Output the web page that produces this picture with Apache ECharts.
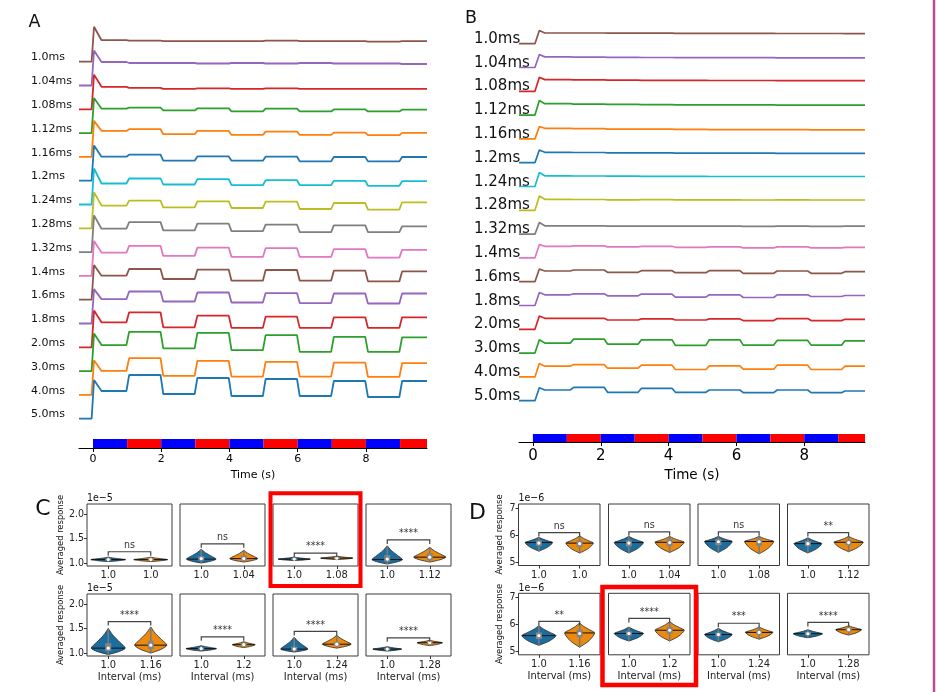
<!DOCTYPE html>
<html><head><meta charset="utf-8">
<script src="https://cdn.jsdelivr.net/npm/echarts@6/dist/echarts.min.js"></script>
<style>html,body{margin:0;padding:0;background:#fff}#c{width:936px;height:692px}</style>
</head><body><div id="c"></div>
<script>
// ---------------- DATA ----------------
// trace labels, top to bottom
const traceLabels = ['1.0ms','1.04ms','1.08ms','1.12ms','1.16ms','1.2ms','1.24ms','1.28ms','1.32ms','1.4ms','1.6ms','1.8ms','2.0ms','3.0ms','4.0ms','5.0ms'];
const timeTicks = [0, 2, 4, 6, 8];
// stimulus: 1-s blocks, 0 = blue, 1 = red
const stimEdges = [0, 1, 2, 3, 4, 5, 6, 7, 8, 9, 9.79];
const stimPhase = [0, 1, 0, 1, 0, 1, 0, 1, 0, 1];

// Panel A: onset peak and level in each 1-s block (a.u. above the trace baseline), top to bottom
const aPeak = [35, 35, 34.7, 35, 36, 35.3, 36, 36, 36.7, 35, 34.7, 34.4, 36.7, 37.7, 34.7, 38.7];
const aLevels = [
  [21.5, 21, 20.5, 20.5, 20.5, 21, 20.5, 20.5, 20, 20.5],
  [23.5, 22.5, 22.5, 22, 22.5, 22, 22.5, 22, 22, 21.5],
  [22.5, 21.5, 20.5, 21, 20.5, 21, 20.5, 20.5, 20.5, 20.5],
  [24.4, 25.4, 22.7, 24.7, 21.7, 24.4, 21.7, 23.7, 21.7, 23.4],
  [26, 27.7, 22.7, 26, 22, 25.3, 22, 24.3, 21.7, 24],
  [24, 26, 20, 24.3, 20, 24, 19.3, 23.7, 19.3, 23.7],
  [21, 26, 20, 25.3, 19.3, 24.3, 19.3, 23.7, 18.7, 23.3],
  [22.7, 27.7, 21, 27, 20.3, 26.7, 19.3, 25.3, 18.7, 26],
  [23.4, 30, 21.7, 28.4, 21, 27.4, 20, 26.7, 20, 25.7],
  [23.3, 30, 20, 28.3, 19, 27.7, 19, 26.7, 18.3, 26],
  [24, 30.7, 20.7, 30, 19, 29.7, 19, 29, 18.3, 28.3],
  [24.4, 32, 22, 31, 21, 30.4, 20.4, 30, 20, 30],
  [25, 35, 20, 31.7, 19.4, 30.7, 19.4, 30, 19.4, 30],
  [26, 39.3, 22.7, 38.3, 21, 36, 19.3, 34.3, 19.3, 33.7],
  [24, 36.7, 19, 34, 18.3, 33, 18.3, 32.3, 18, 31.7],
  [27.7, 43.7, 24.7, 40.7, 22.7, 39.7, 22.7, 37.7, 21.7, 37.7]
];

// Panel B: same layout
const bPeak = [13.3, 13, 14, 14.7, 12.3, 12.7, 14, 14.3, 11.6, 13.3, 12.7, 13, 13.3, 13.3, 13.3, 13];
const bLevels = [
  [10.7, 10.7, 10.5, 10.5, 10.3, 10.3, 10.3, 10.2, 10.2, 10],
  [10.6, 10.4, 10.2, 10, 9.8, 9.8, 9.8, 9.7, 9.6, 9.6],
  [11.7, 11.5, 11.2, 11, 11, 10.8, 10.8, 10.7, 10.7, 10.7],
  [11.4, 11, 10.8, 10.5, 10.3, 10.3, 10.2, 10, 10, 10],
  [10.6, 10.3, 9.8, 9.7, 9.5, 9.3, 9.3, 9.2, 9, 9],
  [10.4, 10.2, 9.8, 9.8, 9.6, 9.5, 9.5, 9.4, 9.4, 9.4],
  [10.7, 10.5, 10.3, 10.2, 10.1, 10, 10, 10, 10, 10],
  [11, 10.8, 10.5, 10.7, 10.4, 10.5, 10.3, 10.4, 10.3, 10.3],
  [8.3, 8.2, 8, 8, 8, 8, 7.8, 8, 7.8, 8],
  [11.6, 12, 11, 11.6, 10.6, 11, 10, 11, 10, 10.6],
  [10.7, 11.7, 9.4, 11, 9, 11, 8.4, 10.7, 8.4, 10],
  [10.7, 11.7, 9.7, 11.4, 8.4, 10.7, 8, 10.7, 9, 10],
  [11, 11, 9.3, 10.4, 9.3, 10.4, 8.7, 10.7, 8.7, 10],
  [10, 14, 9, 13.3, 7.7, 13.3, 8, 12.7, 8, 12.3],
  [10.7, 12.3, 8.7, 11.7, 7.4, 11, 7.7, 11.7, 7.4, 10.7],
  [10.7, 13.4, 8.4, 12.4, 8.4, 10.7, 8, 10.7, 8, 9.7]
];

// Panels C / D: comparison intervals (reference is always 1.0)
const refInterval = '1.0';
const intervals = ['1.0', '1.04', '1.08', '1.12', '1.16', '1.2', '1.24', '1.28'];
// violins: [lo, mode, hi, halfWidth, q1, median, q3]
const cViolins = [
  [[1.03, 1.07, 1.12, 0.41, 1.05, 1.07, 1.09], [1.03, 1.07, 1.12, 0.40, 1.05, 1.07, 1.09]],
  [[1.00, 1.08, 1.28, 0.35, 1.05, 1.09, 1.14], [1.02, 1.09, 1.26, 0.33, 1.05, 1.09, 1.15]],
  [[1.05, 1.08, 1.12, 0.38, 1.06, 1.08, 1.10], [1.07, 1.10, 1.14, 0.38, 1.08, 1.10, 1.12]],
  [[0.98, 1.07, 1.35, 0.36, 1.03, 1.08, 1.16], [1.02, 1.12, 1.32, 0.38, 1.06, 1.12, 1.20]],
  [[0.97, 1.10, 1.50, 0.40, 1.04, 1.10, 1.20], [1.00, 1.16, 1.53, 0.38, 1.08, 1.16, 1.25]],
  [[1.04, 1.09, 1.15, 0.36, 1.07, 1.09, 1.11], [1.11, 1.17, 1.23, 0.27, 1.14, 1.17, 1.20]],
  [[1.02, 1.08, 1.32, 0.32, 1.05, 1.08, 1.13], [1.10, 1.18, 1.36, 0.34, 1.15, 1.18, 1.22]],
  [[1.04, 1.08, 1.13, 0.34, 1.06, 1.08, 1.10], [1.15, 1.21, 1.26, 0.30, 1.19, 1.21, 1.23]]
];
const dViolins = [
  [[5.40, 5.72, 5.92, 0.34, 5.60, 5.70, 5.80], [5.33, 5.70, 5.97, 0.34, 5.55, 5.68, 5.80]],
  [[5.33, 5.72, 5.95, 0.36, 5.58, 5.70, 5.80], [5.35, 5.73, 5.95, 0.36, 5.58, 5.72, 5.85]],
  [[5.35, 5.76, 5.95, 0.34, 5.62, 5.75, 5.85], [5.30, 5.76, 5.95, 0.36, 5.60, 5.75, 5.85]],
  [[5.33, 5.68, 5.90, 0.34, 5.58, 5.68, 5.78], [5.38, 5.73, 5.95, 0.36, 5.62, 5.72, 5.82]],
  [[5.22, 5.58, 5.95, 0.42, 5.45, 5.58, 5.70], [5.15, 5.68, 6.05, 0.37, 5.52, 5.66, 5.80]],
  [[5.38, 5.66, 5.90, 0.36, 5.58, 5.66, 5.74], [5.38, 5.78, 6.10, 0.36, 5.65, 5.78, 5.90]],
  [[5.35, 5.62, 5.85, 0.34, 5.55, 5.62, 5.70], [5.45, 5.70, 5.90, 0.34, 5.62, 5.70, 5.78]],
  [[5.50, 5.65, 5.80, 0.36, 5.60, 5.65, 5.72], [5.60, 5.80, 5.95, 0.32, 5.74, 5.80, 5.86]]
];
const cBracket = [1.23, 1.39, 1.20, 1.47, 1.64, 1.33, 1.44, 1.31];
const dBracket = [6.09, 6.12, 6.12, 6.09, 6.11, 6.22, 6.04, 6.07];
const cSig = ['ns', 'ns', '****', '****', '****', '****', '****', '****'];
const dSig = ['ns', 'ns', 'ns', '**', '**', '****', '***', '****'];
const cTicks = [1.0, 1.5, 2.0];
const dTicks = [5, 6, 7];

// ---------------- BUILD ----------------
const tab10 = ['#1f77b4','#ff7f0e','#2ca02c','#d62728','#9467bd','#8c564b','#e377c2','#7f7f7f','#bcbd22','#17becf'];
const violinColors = ['#1a6fa0', '#ec8a10'];
const FONT = 'DejaVu Sans';
const NARROW = "'Liberation Sans Narrow','DejaVu Sans Condensed','Liberation Sans',sans-serif";
const STEP = 23.8;
const N = traceLabels.length;

const grids = [], xAxes = [], yAxes = [], series = [];

function tracePanel(cfg, peaks, levels) {
  const gi = grids.length;
  grids.push({left: cfg.left, top: cfg.top, width: cfg.width, height: cfg.height});
  xAxes.push({
    gridIndex: gi, type: 'value', min: cfg.xMin, max: 9.79,
    axisLine: {show: true, onZero: false, lineStyle: {color: '#000', width: 1}},
    axisTick: {show: true, customValues: timeTicks, length: 4, lineStyle: {color: '#000'}},
    axisLabel: {customValues: timeTicks, fontSize: cfg.tickFont, margin: cfg.tickMargin, color: '#000', fontFamily: FONT},
    splitLine: {show: false},
    name: 'Time (s)', nameLocation: 'middle', nameGap: cfg.nameGap,
    nameTextStyle: {fontSize: cfg.nameFont, color: '#000', fontFamily: FONT}
  });
  const labelVals = traceLabels.map((_, j) => (N - 1 - j) * STEP + cfg.labelOffset);
  yAxes.push({
    gridIndex: gi, type: 'value', min: cfg.yMin, max: cfg.yMax,
    axisLine: {show: false, onZero: false}, axisTick: {show: false}, splitLine: {show: false},
    axisLabel: {
      customValues: labelVals, align: 'left', margin: cfg.labelMargin,
      fontSize: cfg.labelFont, color: '#111', fontFamily: FONT, showMinLabel: true, showMaxLabel: true,
      formatter: v => traceLabels[N - 1 - Math.round((v - cfg.labelOffset) / STEP)]
    }
  });
  // stimulus bar
  series.push({
    type: 'custom', xAxisIndex: gi, yAxisIndex: gi, silent: true,
    data: stimPhase.map((p, k) => [stimEdges[k], stimEdges[k + 1], p]),
    encode: {x: [0, 1]},
    renderItem: (params, api) => {
      const a = api.coord([api.value(0), cfg.yMin]);
      const b = api.coord([api.value(1), cfg.yMin]);
      return {type: 'rect', shape: {x: a[0], y: a[1] - cfg.barH, width: b[0] - a[0], height: cfg.barH},
        style: {fill: api.value(2) === 0 ? '#0000ff' : '#ff0000'}};
    }
  });
  // traces
  traceLabels.forEach((lab, j) => {
    const off = (N - 1 - j) * STEP;
    const lv = levels[j];
    const pts = [[cfg.xMin, 0], [cfg.onset, 0], [cfg.peakT, peaks[j]]];
    for (let k = 0; k < 10; k++) {
      const s = k === 0 ? cfg.settle : k + cfg.stepEnd;
      const e = k === 9 ? 9.79 : k + 1 + cfg.stepStart;
      pts.push([s, lv[k]], [e, lv[k]]);
    }
    series.push({
      type: 'line', name: lab, xAxisIndex: gi, yAxisIndex: gi, silent: true,
      showSymbol: false, symbol: 'none',
      lineStyle: {color: tab10[(N - 1 - j) % 10], width: cfg.lw},
      data: pts.map(p => [p[0], p[1] + off])
    });
  });
}

tracePanel({left: 79, top: 20, width: 348, height: 428, xMin: -0.41, yMin: -29.3, yMax: 398.7,
  labelOffset: 4.2, labelMargin: 48, labelFont: 11, tickFont: 11, tickMargin: 6, nameFont: 11, nameGap: 22,
  barH: 9, onset: -0.04, peakT: 0.03, settle: 0.25, stepStart: -0.02, stepEnd: 0.06, lw: 1.8}, aPeak, aLevels);
tracePanel({left: 519, top: 20, width: 346, height: 422, xMin: -0.41, yMin: -41.3, yMax: 380.7,
  labelOffset: 4.7, labelMargin: 45, labelFont: 15, tickFont: 15, tickMargin: 7, nameFont: 13.5, nameGap: 26,
  barH: 8, onset: 0.06, peakT: 0.19, settle: 0.35, stepStart: 0.1, stepEnd: 0.2, lw: 1.7}, bPeak, bLevels);

function violinPanel(cfg, viol, brackets, sigs, ticks, tickFmt) {
  for (let k = 0; k < 8; k++) {
    const row = k < 4 ? 0 : 1, col = k % 4;
    const gi = grids.length;
    grids.push({left: cfg.lefts[col], top: cfg.tops[row], width: cfg.width, height: cfg.height,
      show: true, borderColor: '#3a3a3a', borderWidth: 1, backgroundColor: 'transparent'});
    const xa = {
      gridIndex: gi, type: 'value', min: -0.5, max: 1.5,
      axisLine: {show: false, onZero: false}, splitLine: {show: false},
      axisTick: {show: true, customValues: [0, 1], length: 3, lineStyle: {color: '#333'}},
      axisLabel: {customValues: [0, 1], margin: 4, fontSize: 11, color: '#222', fontFamily: NARROW,
        showMinLabel: true, showMaxLabel: true,
        formatter: v => (v < 0.5 ? refInterval : intervals[k])}
    };
    if (row === 1) {
      xa.name = 'Interval (ms)'; xa.nameLocation = 'middle'; xa.nameGap = 16;
      xa.nameTextStyle = {fontSize: 11, color: '#222', fontFamily: NARROW};
    }
    xAxes.push(xa);
    yAxes.push({
      gridIndex: gi, type: 'value', min: cfg.yMin, max: cfg.yMax,
      axisLine: {show: false, onZero: false}, splitLine: {show: false},
      axisTick: {show: col === 0, customValues: ticks, length: 3, lineStyle: {color: '#333'}},
      axisLabel: {show: col === 0, customValues: ticks, margin: 3, fontSize: 10.5, color: '#222', fontFamily: NARROW,
        showMinLabel: true, showMaxLabel: true, hideOverlap: false, formatter: tickFmt}
    });
    series.push({
      type: 'custom', xAxisIndex: gi, yAxisIndex: gi, silent: true,
      data: viol[k].map((v, i) => [i].concat(v)),
      encode: {x: 0, y: 2},
      renderItem: (params, api) => {
        const x = api.value(0);
        const lo = api.value(1), mode = api.value(2), hi = api.value(3), hw = api.value(4);
        const q1 = api.value(5), med = api.value(6), q3 = api.value(7);
        const cx = api.coord([x, mode])[0];
        const w = api.size([hw, 0])[0];
        const prof = [[lo, 0], [lo + (mode - lo) * 0.45, 0.62], [mode, 1], [mode + (hi - mode) * 0.3, 0.68],
          [mode + (hi - mode) * 0.65, 0.28], [hi, 0]];
        const yPx = y => api.coord([x, y])[1];
        const pts = prof.map(([y, f]) => [cx - f * w, yPx(y)])
          .concat(prof.slice().reverse().map(([y, f]) => [cx + f * w, yPx(y)]));
        const my = yPx(mode);
        return {type: 'group', children: [
          {type: 'polygon', shape: {points: pts, smooth: 0.25}, style: {fill: violinColors[x], stroke: '#2a2a2a', lineWidth: 0.8}},
          {type: 'line', shape: {x1: cx - w * 0.97, y1: my, x2: cx + w * 0.97, y2: my}, style: {stroke: '#111', lineWidth: 1}},
          {type: 'line', shape: {x1: cx, y1: yPx(lo), x2: cx, y2: yPx(hi)}, style: {stroke: '#7a7a7a', lineWidth: 1.6}},
          {type: 'rect', shape: {x: cx - 3, y: yPx(q3), width: 6, height: yPx(q1) - yPx(q3)}, style: {fill: '#858585'}},
          {type: 'circle', shape: {cx: cx, cy: yPx(med), r: 1.6}, style: {fill: '#fff'}}
        ]};
      }
    });
    series.push({
      type: 'custom', xAxisIndex: gi, yAxisIndex: gi, silent: true,
      data: [[0.5, brackets[k]]], encode: {x: 0, y: 1},
      renderItem: (params, api) => {
        const h = api.value(1);
        const a = api.coord([0, h]), b = api.coord([1, h]);
        return {type: 'group', children: [
          {type: 'polyline', shape: {points: [[a[0], a[1] + 4], a, b, [b[0], b[1] + 4]]},
            style: {stroke: '#444', lineWidth: 1.2, fill: 'none'}},
          {type: 'text', style: {text: sigs[k], x: (a[0] + b[0]) / 2, y: a[1] - 1, align: 'center',
            verticalAlign: 'bottom', font: '10.5px ' + NARROW, fill: '#333'}}
        ]};
      }
    });
  }
}

violinPanel({lefts: [87, 180, 273, 366], tops: [504, 594], width: 85, height: 62, yMin: 0.94, yMax: 2.2},
  cViolins, cBracket, cSig, cTicks, v => v.toFixed(1));
violinPanel({lefts: [518.5, 608.5, 698, 787.5], tops: [504, 593.3], width: 81.5, height: 61.5, yMin: 4.87, yMax: 7.15},
  dViolins, dBracket, dSig, dTicks, v => v.toFixed(0));

function txt(t, x, y, size, family, align, rot) {
  return {type: 'text', x: x, y: y, z: 10, silent: true, rotation: rot || 0,
    style: {text: t, font: size + 'px ' + family, fill: '#111', align: align || 'center', verticalAlign: 'middle'}};
}
const R = Math.PI / 2;
const graphics = [
  txt('A', 34.5, 22, 17.5, FONT), txt('B', 471, 18, 17.5, FONT),
  txt('C', 43, 509, 22, FONT), txt('D', 477.5, 513, 22, FONT),
  txt('1e\u22125', 87, 498.5, 10.5, NARROW, 'left'),
  txt('1e\u22125', 87, 588.5, 10.5, NARROW, 'left'),
  txt('1e\u22126', 518.5, 498.5, 10.5, NARROW, 'left'),
  txt('1e\u22126', 518.5, 588, 10.5, NARROW, 'left'),
  txt('Averaged response', 60.7, 535, 9.3, NARROW, 'center', R),
  txt('Averaged response', 60.7, 625, 9.3, NARROW, 'center', R),
  txt('Averaged response', 499.5, 534.5, 9.3, NARROW, 'center', R),
  txt('Averaged response', 499.5, 624, 9.3, NARROW, 'center', R),
  {type: 'rect', z: 20, silent: true, shape: {x: 270.5, y: 493.3, width: 90, height: 92.7}, style: {fill: 'none', stroke: '#ff0000', lineWidth: 4}},
  {type: 'rect', z: 20, silent: true, shape: {x: 602.5, y: 587, width: 93.5, height: 98}, style: {fill: 'none', stroke: '#ff0000', lineWidth: 4.5}},
  {type: 'line', z: 20, silent: true, shape: {x1: 934, y1: 0, x2: 934, y2: 692}, style: {stroke: '#bb4a97', lineWidth: 2.5}}
];

const chart = echarts.init(document.getElementById('c'), null, {renderer: 'canvas'});
chart.setOption({
  backgroundColor: '#ffffff',
  animation: false,
  grid: grids, xAxis: xAxes, yAxis: yAxes, series: series,
  graphic: graphics
});
</script></body></html>
